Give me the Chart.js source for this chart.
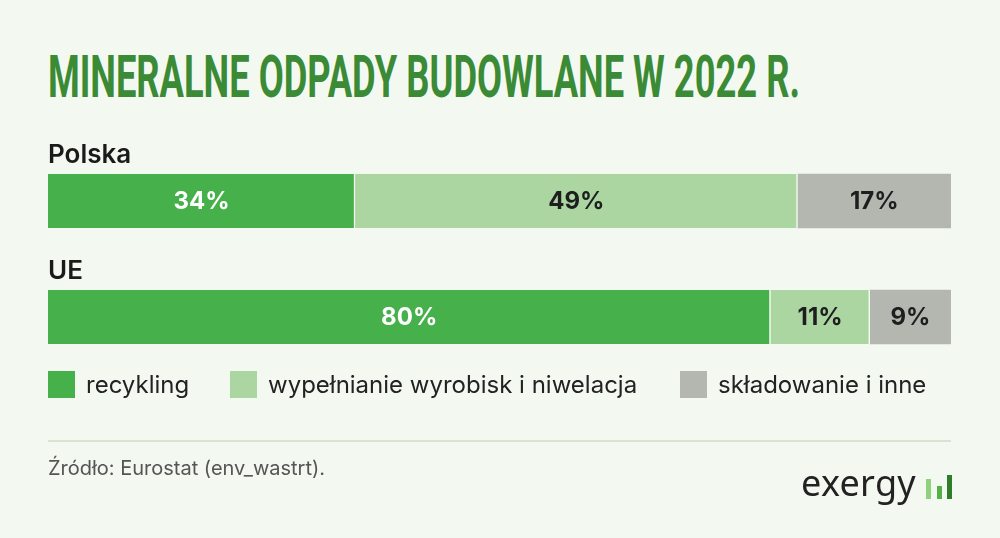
<!DOCTYPE html>
<html lang="pl">
<head>
<meta charset="UTF-8">
<title>Mineralne odpady budowlane w 2022 r.</title>
<script src="https://cdn.jsdelivr.net/npm/chart.js@4.4.1/dist/chart.umd.min.js"></script>
<style>
    html, body { margin: 0; padding: 0; background: #f3f9f1; }
    body { width: 1000px; height: 538px; position: relative; overflow: hidden; font-family: Inter, "Noto Sans", sans-serif; }
    #chart { position: absolute; left: 0; top: 0; }
    #title { position: absolute; left: 48px; top: 42px; margin: 0; white-space: nowrap;
        font-family: Roboto, sans-serif; font-weight: 700;
        font-size: 59px; line-height: 70px; color: #3b8a35; transform-origin: 0 0; }
    .legend { position: absolute; top: 371px; font-size: 24px; color: #222; line-height: 28px; white-space: nowrap; }
    .legend span { display: inline-block; width: 27px; height: 27px; vertical-align: top; margin-right: 11px; }
    #rule { position: absolute; left: 48px; top: 440px; width: 903px; height: 2px; background: #d6e4d1; }
    #source { position: absolute; left: 48px; top: 456px; font-size: 20px; color: #555; }
    #logo { position: absolute; left: 801px; top: 458px; font-family: "Noto Sans", sans-serif; font-size: 36px; color: #222; letter-spacing: 0.3px; }
    .lb { position: absolute; width: 5px; }
</style>
</head>
<body>
<h1 id="title">MINERALNE ODPADY BUDOWLANE W 2022 R.</h1>
<canvas id="chart" width="1000" height="538"></canvas>
<div class="legend" style="left:48px"><span style="background:#46b04a"></span>recykling</div>
<div class="legend" style="left:230px"><span style="background:#abd6a2"></span>wypełnianie wyrobisk i niwelacja</div>
<div class="legend" style="left:680px"><span style="background:#b3b7b0"></span>składowanie i inne</div>
<div id="rule"></div>
<div id="source">Źródło: Eurostat (env_wastrt).</div>
<div id="logo">exergy</div>
<div class="lb" style="left:926px; top:479px; height:20px; background:#8ed27e"></div>
<div class="lb" style="left:937px; top:486px; height:13px; background:#55b046"></div>
<div class="lb" style="left:947px; top:475px; height:24px; background:#2f7d2a"></div>

<script>
    var countries = ["Polska", "UE"];
    var seriesNames = ["recykling", "wypełnianie wyrobisk i niwelacja", "składowanie i inne"];
    var recykling = [34, 80];
    var wypelnianie = [49, 11];
    var skladowanie = [17, 9];
    var colors = ["#46b04a", "#abd6a2", "#b3b7b0"];
    var labelColors = ["#ffffff", "#1e1e1e", "#1e1e1e"];

    // squeeze title to its width in the picture
    var t = document.getElementById("title");
    t.style.transform = "scaleX(" + (752 / t.scrollWidth) + ")";

    var values = [recykling, wypelnianie, skladowanie];
    var datasets = values.map(function (v, i) {
        return {
            label: seriesNames[i],
            data: v,
            backgroundColor: colors[i],
            borderColor: "#f3f9f1",
            borderWidth: i < 2 ? {left: 0, right: 1.5, top: 0, bottom: 0} : 0,
            borderSkipped: false,
            barThickness: 54
        };
    });

    var barText = {
        id: "barText",
        afterDatasetsDraw: function (chart) {
            var ctx = chart.ctx;
            ctx.save();
            ctx.textAlign = "center";
            ctx.textBaseline = "middle";
            ctx.font = "bold 24px Inter, 'Noto Sans', sans-serif";
            chart.data.datasets.forEach(function (ds, i) {
                chart.getDatasetMeta(i).data.forEach(function (bar, j) {
                    ctx.fillStyle = labelColors[i];
                    ctx.fillText(ds.data[j] + "%", (bar.base + bar.x) / 2, bar.y + 1);
                });
            });
            // country names above bars
            var y = chart.scales.y;
            ctx.textAlign = "left";
            ctx.textBaseline = "alphabetic";
            ctx.fillStyle = "#1a1a1a";
            ctx.font = "600 26px Inter, 'Noto Sans', sans-serif";
            countries.forEach(function (c, j) {
                ctx.fillText(c, chart.chartArea.left, y.getPixelForValue(j) - 38);
            });
            ctx.restore();
        }
    };

    new Chart(document.getElementById("chart"), {
        type: "bar",
        data: {labels: countries, datasets: datasets},
        options: {
            indexAxis: "y",
            responsive: false,
            animation: false,
            layout: {padding: {left: 48, right: 49, top: 143, bottom: 163}},
            scales: {
                x: {stacked: true, min: 0, max: 100, display: false},
                y: {stacked: true, display: false}
            },
            plugins: {legend: {display: false}, tooltip: {enabled: false}}
        },
        plugins: [barText]
    });
</script>
</body>
</html>
